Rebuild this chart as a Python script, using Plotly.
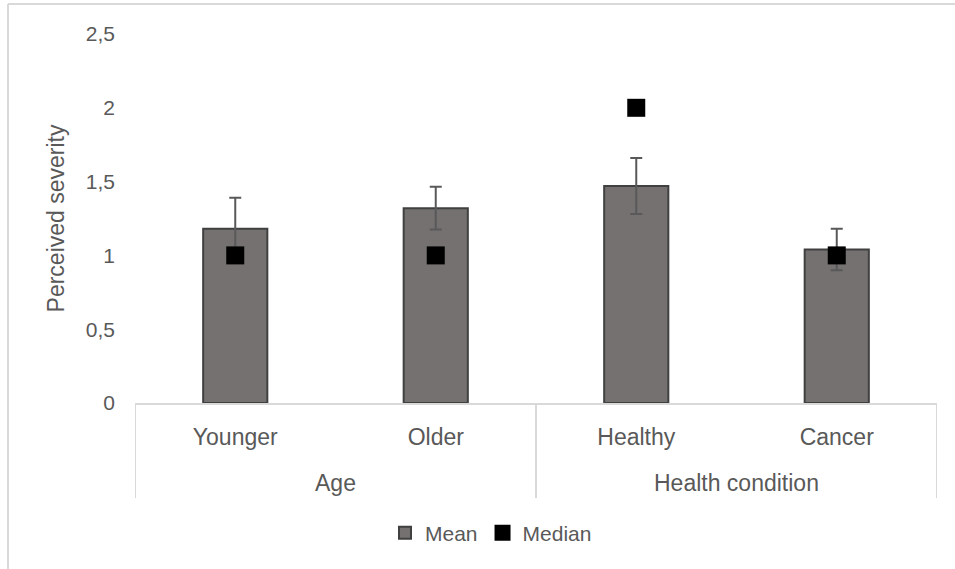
import plotly.graph_objects as go

groups = ["Age", "Health condition"]
group_centers = [0.5, 2.5]
group_edges = [-0.5, 1.5, 3.5]
categories = ["Younger", "Older", "Healthy", "Cancer"]
means = [1.18, 1.32, 1.47, 1.04]
errors = [0.21, 0.145, 0.19, 0.14]
medians = [1, 1, 2, 1]
y_ticks = [0, 0.5, 1, 1.5, 2, 2.5]

FONT = "Liberation Sans, Arial, sans-serif"
TXT = "#595959"
LINE = "#d9d9d9"

# plot area in pixels: x 135..937, y 34..403
def px_x(p):
    return (p - 135) / 802

def px_y(p):
    return (403 - p) / 369

fig = go.Figure()
fig.add_trace(go.Bar(
    x=categories, y=means, name="Mean",
    marker=dict(color="#757171", line=dict(color="#404040", width=2)),
    error_y=dict(type="data", array=errors, visible=True, color="#595959", thickness=2, width=6),
    width=0.32,
))
fig.add_trace(go.Scatter(
    x=categories, y=medians, name="Median", mode="markers",
    marker=dict(symbol="square", size=18, color="#000000"),
))

annotations = [dict(text=g, x=c, xref="x", y=px_y(483), yref="paper",
                    showarrow=False, xanchor="center", yanchor="middle",
                    font=dict(family=FONT, size=23, color=TXT))
               for g, c in zip(groups, group_centers)]

shapes = [dict(type="line", xref="x", yref="paper", x0=e, x1=e, y0=0, y1=px_y(498),
               line=dict(color=LINE, width=2)) for e in group_edges]
shapes += [
    dict(type="line", xref="paper", yref="paper", x0=px_x(8), x1=px_x(960),
         y0=px_y(4), y1=px_y(4), line=dict(color=LINE, width=2)),
    dict(type="line", xref="paper", yref="paper", x0=px_x(8), x1=px_x(8),
         y0=px_y(4), y1=px_y(575), line=dict(color=LINE, width=2)),
]

fig.update_layout(
    width=955, height=569,
    margin=dict(l=135, r=18, t=34, b=166),
    paper_bgcolor="white", plot_bgcolor="white",
    separators=", ",
    font=dict(family=FONT, size=21, color=TXT),
    showlegend=True,
    legend=dict(orientation="h", x=px_x(491), xanchor="center", y=px_y(533), yanchor="middle",
                font=dict(family=FONT, size=21, color=TXT), itemwidth=30, tracegroupgap=0),
    xaxis=dict(type="category", range=[-0.5, 3.5], showline=True, linecolor=LINE, linewidth=2,
               ticks="", ticklabelstandoff=12, tickfont=dict(size=23, color=TXT),
               showgrid=False, zeroline=False),
    yaxis=dict(range=[0, 2.5], tickvals=y_ticks, showgrid=False, zeroline=False,
               showline=False, tickfont=dict(size=21, color=TXT), ticks="",
               ticklabelstandoff=19,
               title=dict(text="Perceived severity", font=dict(size=23, color=TXT), standoff=14)),
    annotations=annotations,
    shapes=shapes,
)

fig.write_html("out.html", config={"displayModeBar": False},
               post_script="document.body.style.margin='0px';")
